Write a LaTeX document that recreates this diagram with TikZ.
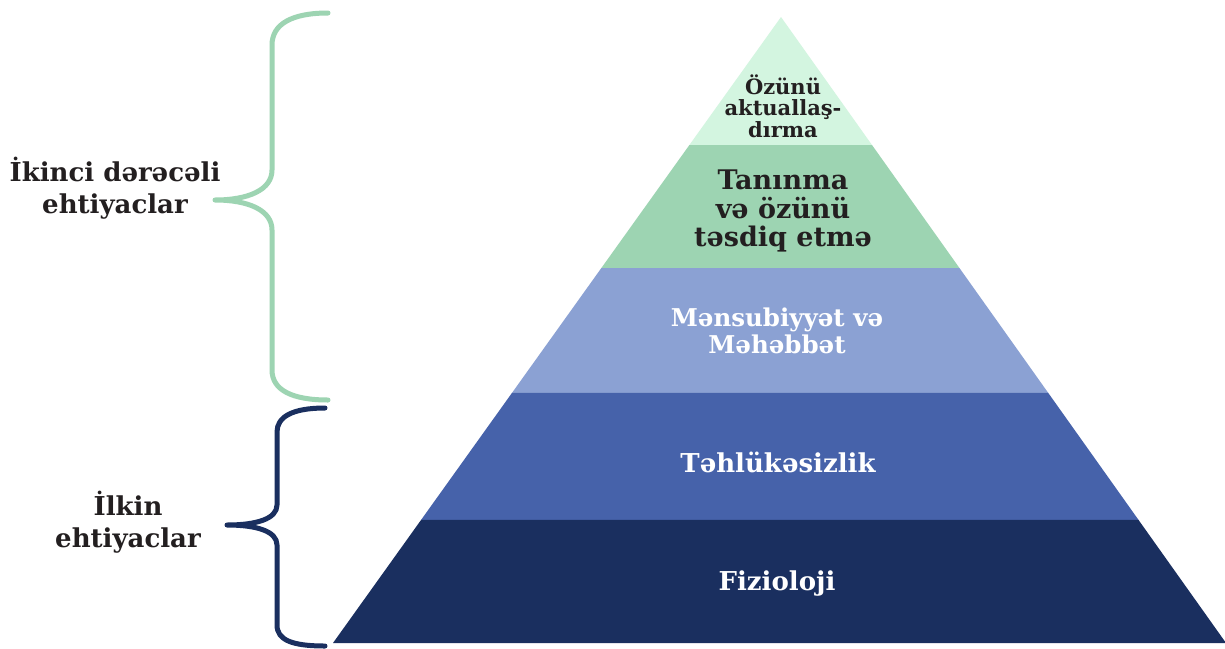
\documentclass[tikz,border=0pt]{standalone}
\usepackage{fontspec}
\setmainfont{DejaVu Serif}
\usetikzlibrary{calc}
\definecolor{lvlA}{HTML}{D3F5E0}
\definecolor{lvlB}{HTML}{9DD4B2}
\definecolor{lvlC}{HTML}{8BA1D3}
\definecolor{lvlD}{HTML}{4662AA}
\definecolor{lvlE}{HTML}{1A2F5F}
\definecolor{ink}{HTML}{231F20}
\begin{document}
\begin{tikzpicture}[x=1pt,y=-1pt,
  lbl/.style={align=center,inner sep=0pt,font=\bfseries\fontsize{26}{32}\selectfont,text=ink},
  dark/.style={align=center,inner sep=0pt,text=ink},
  light/.style={align=center,inner sep=0pt,text=white},
  bracestyle/.style={line width=5pt,line cap=round,line join=round}]
\useasboundingbox (0,0) rectangle (1225,648);
\fill[white] (0,0) rectangle (1225,648);
% pyramid corners
\coordinate (apex) at (781,17);
\coordinate (bl) at (333,643);
\coordinate (br) at (1226,643);
\foreach \n/\t in {1/0.2045,2/0.4010,3/0.6006,4/0.8035}{
  \coordinate (L\n) at ($(apex)!\t!(bl)$);
  \coordinate (R\n) at ($(apex)!\t!(br)$);
}
\fill[lvlA] (apex) -- (R1) -- (L1) -- cycle;
\fill[lvlB] (L1) -- (R1) -- (R2) -- (L2) -- cycle;
\fill[lvlC] (L2) -- (R2) -- (R3) -- (L3) -- cycle;
\fill[lvlD] (L3) -- (R3) -- (R4) -- (L4) -- cycle;
\fill[lvlE] (L4) -- (R4) -- (br) -- (bl) -- cycle;
% pyramid labels
\node[dark,font=\bfseries\fontsize{21}{21.5}\selectfont] (t1) at (783,106) {Özünü\\aktuallaş-\\dırma};
\node[dark,font=\bfseries\fontsize{27}{28.5}\selectfont] (t2) at (783,211) {Tanınma\\və özünü\\təsdiq etmə};
\node[light,font=\bfseries\fontsize{24.5}{27}\selectfont] (t3) at (777,331) {Mənsubiyyət və\\Məhəbbət};
\node[light,font=\bfseries\fontsize{26}{30}\selectfont] (t4) at (778,462) {Təhlükəsizlik};
\node[light,font=\bfseries\fontsize{26}{30}\selectfont] (t5) at (777,584) {Fizioloji};
% side labels
\node[lbl] (s1) at (115,188) {İkinci dərəcəli\\ehtiyaclar};
\node[lbl] (s2) at (128,522) {İlkin\\ehtiyaclar};
% green brace
\coordinate (g1) at (328,13);
\coordinate (gt) at (215,200);
\coordinate (g2) at (328,400);
\draw[bracestyle,lvlB] (g1) .. controls (292,13) and (272,24) .. (272,45) -- (272,170)
  .. controls (272,190) and (248,200) .. (gt)
  .. controls (248,200) and (272,210) .. (272,230) -- (272,370)
  .. controls (272,390) and (292,400) .. (g2);
% navy brace
\coordinate (n1) at (325,408);
\coordinate (nt) at (227,525);
\coordinate (n2) at (325,646);
\draw[bracestyle,lvlE] (n1) .. controls (292,408) and (277,417) .. (277,432) -- (277,505)
  .. controls (277,519) and (256,525) .. (nt)
  .. controls (256,525) and (277,531) .. (277,545) -- (277,625)
  .. controls (277,640) and (292,646) .. (n2);
\end{tikzpicture}
\end{document}
